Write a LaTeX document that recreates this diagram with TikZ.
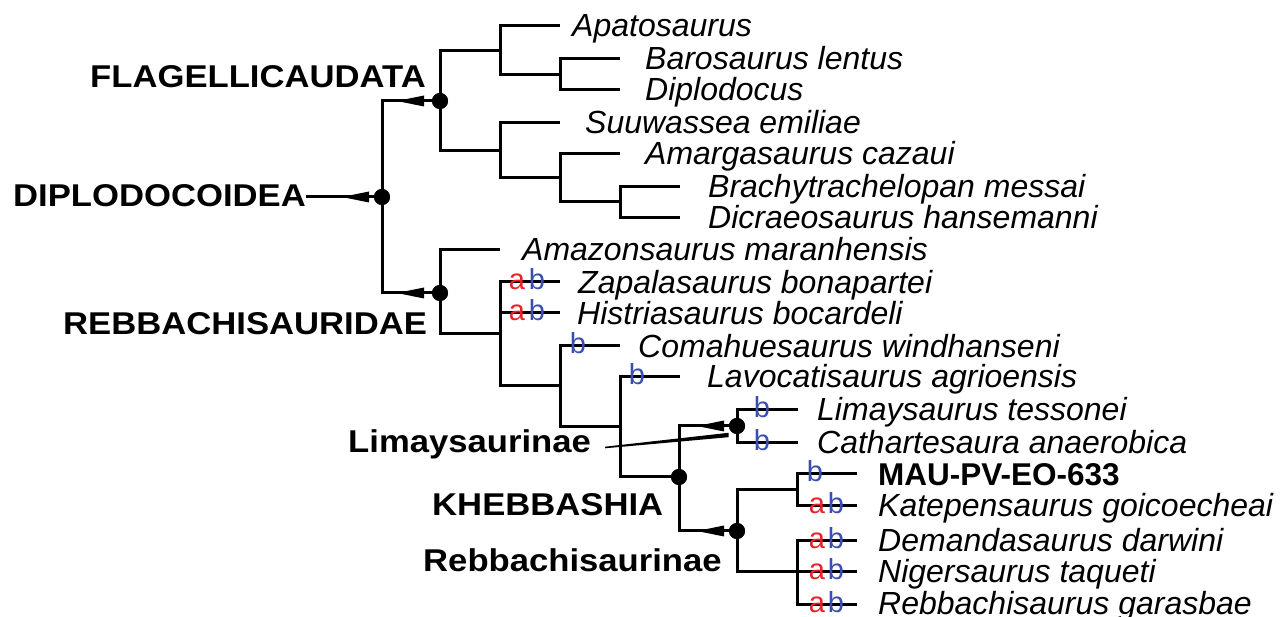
\documentclass[tikz,border=0pt]{standalone}
\usepackage{fontspec}
\setmainfont{Liberation Sans}
\definecolor{ared}{RGB}{230,35,40}
\definecolor{bblue}{RGB}{58,78,178}
\begin{document}
\begin{tikzpicture}[x=1pt,y=-1pt,
  br/.style={line width=3pt, line join=miter},
  dot/.style={circle, fill=black, inner sep=0pt, minimum size=16pt},
  tax/.style={anchor=base west, inner sep=0pt, font=\fontsize{32}{36}\selectfont\itshape},
  mau/.style={anchor=base west, inner sep=0pt, font=\fontsize{31.5}{36}\selectfont\bfseries},
  clade/.style={anchor=base west, inner sep=0pt, xscale=1.1, font=\fontsize{31.5}{36}\selectfont\bfseries},
  la/.style={anchor=base, inner sep=0pt, text=ared, font=\fontsize{29}{30}\selectfont},
  lb/.style={anchor=base, inner sep=0pt, text=bblue, font=\fontsize{29}{30}\selectfont}]
\useasboundingbox[fill=white] (0,0) rectangle (1286,617);

% internal nodes (vertical bar x, stem y)
\coordinate (Dip) at (500,51);
\coordinate (DB) at (560,75);
\coordinate (Dic) at (500,151);
\coordinate (AB) at (560,178);
\coordinate (BD) at (620,202);
\coordinate (N1) at (500,334);
\coordinate (N2) at (560,386);
\coordinate (N3) at (620,427);
\coordinate (M1) at (797,490);
\coordinate (M2) at (797,571);

% leaf ends
\coordinate (cApato) at (560,26);
\coordinate (cBaro) at (620,59);
\coordinate (cDiplo) at (620,90);
\coordinate (cSuu) at (560,123);
\coordinate (cAmarga) at (620,154);
\coordinate (cBrachy) at (680,187);
\coordinate (cDicra) at (680,218);
\coordinate (cAmazon) at (500,250);
\coordinate (cZapa) at (560,282);
\coordinate (cHist) at (560,313);
\coordinate (cComa) at (620,346);
\coordinate (cLavo) at (680,377);
\coordinate (cLima) at (798,410);
\coordinate (cCath) at (798,443);
\coordinate (cMAU) at (857,474);
\coordinate (cKat) at (857,506);
\coordinate (cDem) at (857,540);
\coordinate (cNig) at (857,571);
\coordinate (cReb) at (857,604);

% arrow tips
\coordinate (tF) at (397,101);
\coordinate (tR) at (397,293);
\coordinate (tD) at (342,197);
\coordinate (tL) at (697,426);
\coordinate (tRb) at (697,531);

% dots
\node[dot] (D) at (382,197) {};
\node[dot] (F) at (440,101) {};
\node[dot] (R) at (440,293) {};
\node[dot] (K) at (679,477) {};
\node[dot] (L) at (737,426) {};
\node[dot] (Rb) at (737,531) {};

% branches
\draw[br] (D.center) |- (F.center);
\draw[br] (D.center) |- (R.center);
\draw[br] (F.center) |- (Dip);
\draw[br] (F.center) |- (Dic);
\draw[br] (Dip) |- (cApato);
\draw[br] (Dip) |- (DB);
\draw[br] (DB) |- (cBaro);
\draw[br] (DB) |- (cDiplo);
\draw[br] (Dic) |- (cSuu);
\draw[br] (Dic) |- (AB);
\draw[br] (AB) |- (cAmarga);
\draw[br] (AB) |- (BD);
\draw[br] (BD) |- (cBrachy);
\draw[br] (BD) |- (cDicra);
\draw[br] (R.center) |- (cAmazon);
\draw[br] (R.center) |- (N1);
\draw[br] (N1) |- (cZapa);
\draw[br] (N1) |- (cHist);
\draw[br] (N1) |- (N2);
\draw[br] (N2) |- (cComa);
\draw[br] (N2) |- (N3);
\draw[br] (N3) |- (cLavo);
\draw[br] (N3) |- (K.center);
\draw[br] (K.center) |- (L.center);
\draw[br] (K.center) |- (Rb.center);
\draw[br] (L.center) |- (cLima);
\draw[br] (L.center) |- (cCath);
\draw[br] (Rb.center) |- (M1);
\draw[br] (Rb.center) |- (M2);
\draw[br] (M1) |- (cMAU);
\draw[br] (M1) |- (cKat);
\draw[br] (M2) |- (cDem);
\draw[br] (M2) |- (cNig);
\draw[br] (M2) |- (cReb);

% redraw dots on top
\foreach \n in {D,F,R,K,L,Rb} \fill (\n.center) circle (8pt);

% clade labels
\node[clade] (lF) at (90,88) {FLAGELLICAUDATA};
\node[clade] (lD) at (13,207) {DIPLODOCOIDEA};
\node[clade] (lR) at (63,335) {REBBACHISAURIDAE};
\node[clade] (lL) at (348,453) {Limaysaurinae};
\node[clade] (lK) at (432,516) {KHEBBASHIA};
\node[clade] (lRb) at (423,572) {Rebbachisaurinae};

% arrows
\draw[br] (lD.east |- D) -- (D);
\foreach \t in {tD,tF,tR,tL,tRb}
  \fill (\t) -- ++(27,-5.5) -- ++(0,11) -- cycle;
\coordinate (wA) at (605,447.5);
\coordinate (wB) at (728.5,435);
\fill ([yshift=-0.8pt]wA) -- ([yshift=-2.2pt]wB) -- ([yshift=2.2pt]wB) -- ([yshift=0.8pt]wA) -- cycle;

% taxa
\node[tax] (tApato) at (572,37) {Apatosaurus};
\node[tax] (tBaro) at (645,70) {Barosaurus lentus};
\node[tax] (tDiplo) at (645,101) {Diplodocus};
\node[tax] (tSuu) at (585,134) {Suuwassea emiliae};
\node[tax] (tAmarga) at (645,165) {Amargasaurus cazaui};
\node[tax] (tBrachy) at (708,198) {Brachytrachelopan messai};
\node[tax] (tDicra) at (708,229) {Dicraeosaurus hansemanni};
\node[tax] (tAmazon) at (522,261) {Amazonsaurus maranhensis};
\node[tax] (tZapa) at (578,294) {Zapalasaurus bonapartei};
\node[tax] (tHist) at (577,325) {Histriasaurus bocardeli};
\node[tax] (tComa) at (638,358) {Comahuesaurus windhanseni};
\node[tax] (tLavo) at (707,388) {Lavocatisaurus agrioensis};
\node[tax] (tLima) at (817,421) {Limaysaurus tessonei};
\node[tax] (tCath) at (817,454) {Cathartesaura anaerobica};
\node[mau] (tMAU) at (878,486) {MAU-PV-EO-633};
\node[tax] (tKat) at (878,517) {Katepensaurus goicoecheai};
\node[tax] (tDem) at (878,551) {Demandasaurus darwini};
\node[tax] (tNig) at (878,582) {Nigersaurus taqueti};
\node[tax] (tReb) at (878,614) {Rebbachisaurus garasbae};

% character letters
\node[la] (aZapa) at (517,290) {a};
\node[lb] (bZapa) at (537,290) {b};
\node[la] (aHist) at (517,321) {a};
\node[lb] (bHist) at (537,321) {b};
\node[lb] (bComa) at (578,354) {b};
\node[lb] (bLavo) at (637,385) {b};
\node[lb] (bLima) at (762,418) {b};
\node[lb] (bCath) at (762,451) {b};
\node[lb] (bMAU) at (815,482) {b};
\node[la] (aKat) at (817,514) {a};
\node[lb] (bKat) at (836,514) {b};
\node[la] (aDem) at (817,548) {a};
\node[lb] (bDem) at (836,548) {b};
\node[la] (aNig) at (817,579) {a};
\node[lb] (bNig) at (836,579) {b};
\node[la] (aReb) at (817,612) {a};
\node[lb] (bReb) at (836,612) {b};
\end{tikzpicture}
\end{document}
